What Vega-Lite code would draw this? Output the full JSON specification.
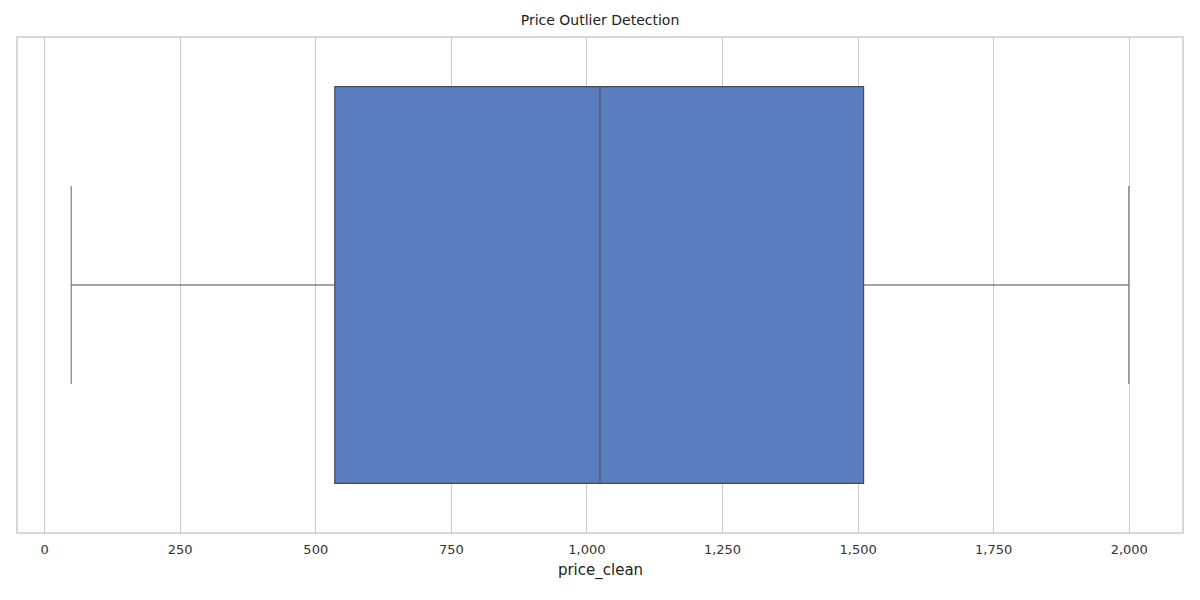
{
  "$schema": "https://vega.github.io/schema/vega-lite/v6.json",
  "width": 1166,
  "height": 496,
  "autosize": {"type": "none"},
  "padding": {"left": 17, "top": 37, "right": 17, "bottom": 67},
  "background": "white",
  "title": {"text": "Price Outlier Detection", "fontSize": 14, "fontWeight": "normal", "font": "DejaVu Sans", "color": "#222", "offset": 9},
  "data": {"values": [{"group": "price", "min": 50, "q1": 536, "median": 1025, "q3": 1511, "max": 2000}]},
  "encoding": {
    "y": {"field": "group", "type": "nominal", "axis": null, "scale": {"paddingInner": 0, "paddingOuter": 0}}
  },
  "layer": [
    {
      "mark": {"type": "rule", "color": "#4a4a4a", "strokeWidth": 1.2},
      "encoding": {
        "x": {"field": "min", "type": "quantitative", "scale": {"domain": [-50, 2100], "nice": false, "zero": false},
          "axis": {"values": [0, 250, 500, 750, 1000, 1250, 1500, 1750, 2000], "title": "price_clean", "grid": true, "gridColor": "#cccccc", "ticks": false, "domain": false, "labelFontSize": 13, "titleFontSize": 15, "titleFontWeight": "normal", "labelColor": "#333", "titleColor": "#222", "labelFont": "DejaVu Sans", "titleFont": "DejaVu Sans", "labelPadding": 10, "titlePadding": 6}},
        "x2": {"field": "q1"}
      }
    },
    {
      "mark": {"type": "rule", "color": "#4a4a4a", "strokeWidth": 1.2},
      "encoding": {"x": {"field": "q3", "type": "quantitative"}, "x2": {"field": "max"}}
    },
    {
      "mark": {"type": "tick", "orient": "vertical", "color": "#4a4a4a", "size": 198, "thickness": 1.2},
      "encoding": {"x": {"field": "min", "type": "quantitative"}}
    },
    {
      "mark": {"type": "tick", "orient": "vertical", "color": "#4a4a4a", "size": 198, "thickness": 1.2},
      "encoding": {"x": {"field": "max", "type": "quantitative"}}
    },
    {
      "mark": {"type": "bar", "height": {"band": 0.8}, "fill": "#5a7dbf", "stroke": "#4a4a4a", "strokeWidth": 1.2},
      "encoding": {"x": {"field": "q1", "type": "quantitative"}, "x2": {"field": "q3"}}
    },
    {
      "mark": {"type": "tick", "orient": "vertical", "color": "#4a4a4a", "size": 396, "thickness": 1.2},
      "encoding": {"x": {"field": "median", "type": "quantitative"}}
    }
  ],
  "config": {"view": {"stroke": "#cccccc", "strokeWidth": 1.5}}
}
